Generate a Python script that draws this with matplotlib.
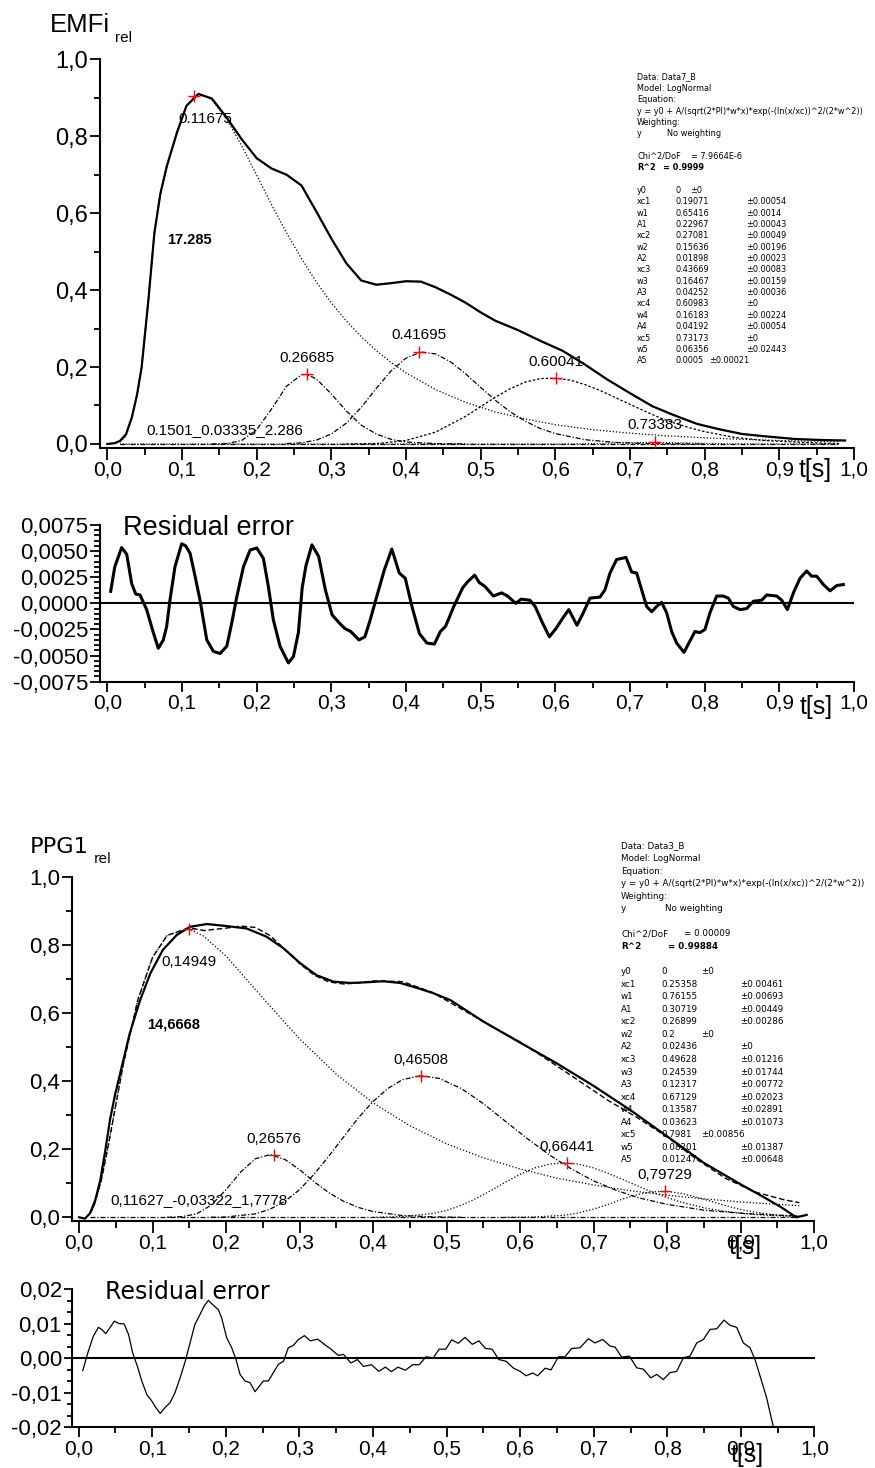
import matplotlib
matplotlib.use("Agg")
import matplotlib.pyplot as plt
from matplotlib.ticker import MultipleLocator, AutoMinorLocator
from matplotlib import font_manager as fm

# ===================== DATA =====================
# --- EMFi measured signal ---
emfi_t = [0.0, 0.01, 0.017, 0.025, 0.033, 0.040, 0.046, 0.055, 0.063, 0.071, 0.0795, 0.093, 0.106, 0.122,
          0.14, 0.16, 0.18, 0.20, 0.22, 0.24, 0.26, 0.28, 0.30, 0.32, 0.34, 0.36, 0.38, 0.40, 0.42, 0.44,
          0.46, 0.48, 0.50, 0.52, 0.55, 0.58, 0.61, 0.64, 0.67, 0.70, 0.73, 0.76, 0.79, 0.82, 0.85, 0.88,
          0.92, 0.96, 0.988]
emfi_v = [0.0, 0.002, 0.008, 0.025, 0.07, 0.13, 0.20, 0.374, 0.548, 0.65, 0.721, 0.808, 0.879, 0.910,
          0.898, 0.848, 0.792, 0.743, 0.716, 0.700, 0.672, 0.604, 0.534, 0.47, 0.425, 0.414, 0.418, 0.423,
          0.422, 0.407, 0.388, 0.367, 0.342, 0.320, 0.296, 0.268, 0.242, 0.206, 0.167, 0.132, 0.098, 0.074,
          0.052, 0.038, 0.026, 0.020, 0.013, 0.010, 0.009]
# --- EMFi log-normal components ---
emfi_c1_t = [0.017, 0.025, 0.033, 0.040, 0.046, 0.055, 0.063, 0.071, 0.080, 0.093, 0.106, 0.117, 0.125,
             0.14, 0.16, 0.18, 0.20, 0.22, 0.24, 0.26, 0.28, 0.30, 0.32, 0.34, 0.36, 0.38, 0.40, 0.44,
             0.48, 0.52, 0.56, 0.60, 0.65, 0.70, 0.75, 0.80, 0.85, 0.90, 0.95, 0.98]
emfi_c1_v = [0.005, 0.02, 0.07, 0.13, 0.20, 0.374, 0.548, 0.65, 0.721, 0.808, 0.879, 0.905, 0.908,
             0.895, 0.844, 0.775, 0.699, 0.622, 0.549, 0.482, 0.421, 0.367, 0.320, 0.279, 0.243, 0.212,
             0.185, 0.141, 0.108, 0.083, 0.065, 0.050, 0.037, 0.028, 0.021, 0.016, 0.012, 0.009, 0.007, 0.006]
emfi_c2_t = [0.14, 0.16, 0.18, 0.20, 0.22, 0.24, 0.26, 0.267, 0.28, 0.30, 0.32, 0.34, 0.36, 0.38, 0.40, 0.44, 0.48]
emfi_c2_v = [0.0, 0.001, 0.009, 0.037, 0.091, 0.150, 0.180, 0.181, 0.169, 0.130, 0.086, 0.049, 0.026,
             0.012, 0.005, 0.001, 0.0]
emfi_c3_t = [0.24, 0.26, 0.28, 0.30, 0.32, 0.34, 0.36, 0.38, 0.40, 0.42, 0.44, 0.46, 0.48, 0.50, 0.52,
             0.54, 0.56, 0.58, 0.60, 0.64, 0.68, 0.72, 0.76, 0.80]
emfi_c3_v = [0.001, 0.003, 0.010, 0.026, 0.054, 0.095, 0.144, 0.190, 0.223, 0.239, 0.234, 0.213, 0.182,
             0.147, 0.113, 0.083, 0.059, 0.040, 0.027, 0.011, 0.004, 0.001, 0.0005, 0.0]
emfi_c4_t = [0.32, 0.36, 0.40, 0.44, 0.48, 0.50, 0.52, 0.54, 0.56, 0.58, 0.60, 0.62, 0.64, 0.66, 0.68,
             0.70, 0.72, 0.74, 0.76, 0.78, 0.80, 0.84, 0.88, 0.92, 0.96, 0.98]
emfi_c4_v = [0.0, 0.001, 0.009, 0.031, 0.072, 0.097, 0.122, 0.144, 0.161, 0.170, 0.171, 0.166, 0.154,
             0.139, 0.121, 0.103, 0.085, 0.068, 0.054, 0.042, 0.032, 0.017, 0.009, 0.005, 0.002, 0.001]
emfi_c5_t = [0.017, 0.60, 0.62, 0.66, 0.70, 0.733, 0.76, 0.80, 0.84, 0.98]
emfi_c5_v = [0.0, 0.0, 0.0002, 0.0013, 0.0035, 0.0043, 0.0035, 0.0015, 0.0004, 0.0]
emfi_base_t = [0.017, 0.98]
emfi_base_v = [0.0, 0.0]
emfi_peak_t = [0.11675, 0.26685, 0.41695, 0.60041, 0.73383]
emfi_peak_v = [0.905, 0.181, 0.239, 0.171, 0.004]
emfi_peak_lbl = ["0.11675", "0.26685", "0.41695", "0.60041", "0.73383"]
emfi_area_lbl = "17.285"
emfi_extra_lbl = "0.1501_0.03335_2.286"

# --- EMFi residual ---
res1_t = [0.0045, 0.010, 0.0192, 0.026, 0.0326, 0.038, 0.0438, 0.0527, 0.0616, 0.0683, 0.075, 0.0795,
          0.0839, 0.0906, 0.0996, 0.105, 0.1108, 0.1175, 0.1242, 0.1332, 0.1421, 0.151, 0.160, 0.1666,
          0.1733, 0.1823, 0.1912, 0.2001, 0.209, 0.2157, 0.2224, 0.2313, 0.2425, 0.2492, 0.2559, 0.261,
          0.266, 0.274, 0.283, 0.292, 0.301, 0.311, 0.318, 0.326, 0.337, 0.345, 0.352, 0.361, 0.371,
          0.381, 0.391, 0.399, 0.408, 0.418, 0.428, 0.438, 0.446, 0.453, 0.464, 0.476, 0.483, 0.492,
          0.498, 0.506, 0.517, 0.528, 0.536, 0.547, 0.554, 0.566, 0.573, 0.583, 0.592, 0.601, 0.611,
          0.618, 0.629, 0.6375, 0.6464, 0.6598, 0.6665, 0.6732, 0.6821, 0.6888, 0.6946, 0.7022, 0.7089,
          0.7156, 0.7223, 0.729, 0.7357, 0.7424, 0.7491, 0.7558, 0.7625, 0.7723, 0.7803, 0.787, 0.7937,
          0.8004, 0.8071, 0.8161, 0.825, 0.8317, 0.8384, 0.8474, 0.8563, 0.8652, 0.8764, 0.8831, 0.8965,
          0.9032, 0.9108, 0.9188, 0.9277, 0.9366, 0.9433, 0.950, 0.959, 0.9679, 0.9768, 0.9857]
res1_v = [0.00115, 0.0035, 0.00534, 0.0047, 0.0019, 0.0009, 0.0008, -0.0006, -0.0028, -0.0043, -0.0035,
          -0.0022, 0.0003, 0.0035, 0.0057, 0.0055, 0.0048, 0.0026, 0.0003, -0.0035, -0.0046, -0.0048,
          -0.0041, -0.0019, 0.0006, 0.0035, 0.0051, 0.0053, 0.0043, 0.0016, -0.0016, -0.0041, -0.0057,
          -0.0051, -0.0028, 0.0015, 0.0036, 0.0056, 0.0045, 0.0013, -0.0011, -0.0019, -0.0024, -0.0027,
          -0.0035, -0.0032, -0.0016, 0.0007, 0.0032, 0.0052, 0.0029, 0.0024, -0.0003, -0.0029, -0.0038,
          -0.0039, -0.0027, -0.0022, -0.0003, 0.0015, 0.0021, 0.0027, 0.0020, 0.0016, 0.0007, 0.0010,
          0.0007, 0.0000, 0.0004, 0.0003, -0.0003, -0.0019, -0.0032, -0.0024, -0.0013, -0.0006, -0.0021,
          -0.0009, 0.0005, 0.0006, 0.0013, 0.0029, 0.0042, 0.0043, 0.0044, 0.0030, 0.0029, 0.0013,
          -0.0003, -0.0008, -0.0003, 0.0001, -0.0009, -0.0027, -0.0038, -0.0047, -0.0036, -0.0027,
          -0.0028, -0.0025, -0.0009, 0.0007, 0.0007, 0.0005, -0.0003, -0.0006, -0.0005, 0.0002, 0.0003,
          0.0008, 0.0007, 0.0003, -0.0006, 0.0010, 0.0024, 0.0031, 0.0026, 0.0026, 0.0018, 0.0012,
          0.0017, 0.0018]

# --- PPG1 measured signal ---
ppg_t = [0.0, 0.008, 0.015, 0.022, 0.029, 0.036, 0.042, 0.049, 0.056, 0.069, 0.083, 0.097, 0.114, 0.133,
         0.151, 0.174, 0.201, 0.228, 0.255, 0.278, 0.301, 0.323, 0.346, 0.369, 0.391, 0.414, 0.437, 0.459,
         0.482, 0.505, 0.55, 0.60, 0.65, 0.70, 0.75, 0.80, 0.85, 0.90, 0.931, 0.955, 0.976, 0.990]
ppg_v = [0.0, -0.004, 0.012, 0.05, 0.11, 0.20, 0.285, 0.36, 0.423, 0.54, 0.637, 0.716, 0.785, 0.829,
         0.853, 0.861, 0.855, 0.848, 0.824, 0.790, 0.746, 0.711, 0.692, 0.688, 0.690, 0.693, 0.688, 0.674,
         0.658, 0.638, 0.575, 0.513, 0.452, 0.386, 0.315, 0.238, 0.160, 0.097, 0.060, 0.030, 0.0, 0.007]
ppg_fit_t = [0.015, 0.02, 0.03, 0.04, 0.06, 0.08, 0.10, 0.12, 0.15, 0.17, 0.20, 0.22, 0.24, 0.26, 0.28,
             0.30, 0.32, 0.34, 0.36, 0.38, 0.40, 0.44, 0.48, 0.52, 0.56, 0.60, 0.64, 0.68, 0.72, 0.76,
             0.80, 0.84, 0.88, 0.92, 0.96, 0.98]
ppg_fit_v = [0.012, 0.031, 0.106, 0.213, 0.447, 0.639, 0.763, 0.828, 0.850, 0.842, 0.849, 0.855, 0.851,
             0.827, 0.787, 0.745, 0.711, 0.691, 0.685, 0.688, 0.694, 0.692, 0.661, 0.612, 0.562, 0.515,
             0.459, 0.401, 0.343, 0.292, 0.236, 0.171, 0.114, 0.074, 0.051, 0.043]
# --- PPG1 log-normal components ---
ppg_c1_t = [0.015, 0.02, 0.03, 0.04, 0.05, 0.06, 0.08, 0.10, 0.12, 0.15, 0.17, 0.20, 0.25, 0.30, 0.35,
            0.40, 0.45, 0.50, 0.55, 0.60, 0.65, 0.70, 0.75, 0.80, 0.85, 0.90, 0.95, 0.98]
ppg_c1_v = [0.012, 0.031, 0.106, 0.213, 0.332, 0.447, 0.639, 0.763, 0.828, 0.846, 0.825, 0.767, 0.644,
            0.524, 0.420, 0.336, 0.269, 0.216, 0.175, 0.142, 0.115, 0.095, 0.078, 0.065, 0.054, 0.045,
            0.038, 0.034]
ppg_c2_t = [0.12, 0.14, 0.16, 0.18, 0.20, 0.22, 0.24, 0.26, 0.28, 0.30, 0.32, 0.34, 0.36, 0.38, 0.40,
            0.44, 0.48, 0.52]
ppg_c2_v = [0.0, 0.002, 0.010, 0.036, 0.081, 0.133, 0.172, 0.184, 0.170, 0.140, 0.104, 0.072, 0.047,
            0.029, 0.017, 0.005, 0.0015, 0.0]
ppg_c3_t = [0.18, 0.20, 0.24, 0.26, 0.28, 0.30, 0.32, 0.34, 0.36, 0.38, 0.40, 0.42, 0.44, 0.465, 0.49,
            0.52, 0.55, 0.58, 0.61, 0.64, 0.67, 0.70, 0.73, 0.76, 0.80, 0.85, 0.90, 0.95, 0.98]
ppg_c3_v = [0.0, 0.001, 0.010, 0.024, 0.047, 0.081, 0.127, 0.180, 0.236, 0.292, 0.340, 0.378, 0.404,
            0.416, 0.408, 0.378, 0.334, 0.282, 0.231, 0.183, 0.142, 0.107, 0.080, 0.058, 0.038, 0.021,
            0.012, 0.006, 0.0045]
ppg_c4_t = [0.40, 0.44, 0.48, 0.50, 0.52, 0.54, 0.56, 0.58, 0.60, 0.62, 0.64, 0.66, 0.68, 0.70, 0.72,
            0.74, 0.76, 0.78, 0.80, 0.82, 0.85, 0.88, 0.92, 0.96, 0.98]
ppg_c4_v = [0.0, 0.002, 0.011, 0.020, 0.035, 0.055, 0.078, 0.103, 0.126, 0.145, 0.156, 0.160, 0.156,
            0.145, 0.129, 0.111, 0.092, 0.074, 0.058, 0.044, 0.028, 0.017, 0.008, 0.0035, 0.002]
ppg_c5_t = [0.58, 0.62, 0.66, 0.68, 0.70, 0.72, 0.74, 0.76, 0.78, 0.80, 0.82, 0.84, 0.86, 0.88, 0.90,
            0.92, 0.94, 0.96, 0.98]
ppg_c5_v = [0.0, 0.001, 0.006, 0.013, 0.024, 0.038, 0.054, 0.067, 0.075, 0.076, 0.070, 0.059, 0.047,
            0.034, 0.023, 0.015, 0.009, 0.005, 0.003]
ppg_base_t = [0.015, 0.98]
ppg_base_v = [0.0, 0.0]
ppg_peak_t = [0.14949, 0.26576, 0.46508, 0.66441, 0.79729]
ppg_peak_v = [0.846, 0.184, 0.416, 0.160, 0.076]
ppg_peak_lbl = ["0,14949", "0,26576", "0,46508", "0,66441", "0,79729"]
ppg_area_lbl = "14,6668"
ppg_extra_lbl = "0,11627_-0,03322_1,7778"

# --- PPG1 residual ---
res2_t = [0.0057, 0.0133, 0.020, 0.027, 0.0315, 0.037, 0.043, 0.0487, 0.055, 0.062, 0.068, 0.0736,
          0.0799, 0.0859, 0.0927, 0.0995, 0.105, 0.111, 0.1175, 0.1243, 0.131, 0.138, 0.145, 0.1515,
          0.158, 0.165, 0.1705, 0.1764, 0.1832, 0.190, 0.1945, 0.2013, 0.2081, 0.214, 0.2194, 0.2262,
          0.233, 0.2398, 0.2457, 0.2511, 0.258, 0.2647, 0.2715, 0.2785, 0.285, 0.292, 0.2987, 0.307,
          0.315, 0.325, 0.334, 0.343, 0.353, 0.360, 0.370, 0.379, 0.387, 0.398, 0.408, 0.417, 0.425,
          0.434, 0.444, 0.454, 0.463, 0.472, 0.482, 0.490, 0.499, 0.507, 0.516, 0.525, 0.535, 0.544,
          0.553, 0.562, 0.571, 0.581, 0.591, 0.600, 0.608, 0.617, 0.624, 0.634, 0.642, 0.652, 0.661,
          0.670, 0.6814, 0.6927, 0.7018, 0.7122, 0.7222, 0.729, 0.738, 0.7485, 0.7584, 0.7675, 0.7775,
          0.7856, 0.7946, 0.8037, 0.8128, 0.8218, 0.8309, 0.840, 0.849, 0.8581, 0.8672, 0.877, 0.8852,
          0.8943, 0.9033, 0.9124, 0.9192, 0.9282, 0.935, 0.9441, 0.9486]
res2_v = [-0.0036, 0.0020, 0.0063, 0.0089, 0.0083, 0.0071, 0.0089, 0.0107, 0.0100, 0.0099, 0.0068,
          0.0015, -0.0023, -0.0066, -0.0105, -0.0124, -0.0143, -0.0160, -0.0143, -0.0129, -0.0100,
          -0.0057, -0.0009, 0.0044, 0.0097, 0.0126, 0.0150, 0.0167, 0.0153, 0.0140, 0.0116, 0.0059,
          0.0030, -0.0004, -0.0047, -0.0066, -0.0071, -0.0097, -0.0081, -0.0066, -0.0066, -0.0042,
          -0.0018, -0.0009, 0.0030, 0.0037, 0.0054, 0.0065, 0.0050, 0.0055, 0.0040, 0.0026, 0.0008,
          0.0011, -0.0014, -0.0004, -0.0024, -0.0019, -0.0038, -0.0026, -0.0039, -0.0026, -0.0035,
          -0.0019, -0.0019, 0.0004, 0.0001, 0.0026, 0.0026, 0.0053, 0.0043, 0.0060, 0.0040, 0.0050,
          0.0028, 0.0026, -0.0004, -0.0009, -0.0029, -0.0038, -0.0051, -0.0043, -0.0051, -0.0029,
          -0.0034, 0.0004, 0.0004, 0.0028, 0.0030, 0.0056, 0.0044, 0.0054, 0.0035, 0.0032, 0.0003,
          0.0006, -0.0028, -0.0032, -0.0057, -0.0047, -0.0062, -0.0042, -0.0038, 0.0001, 0.0006,
          0.0044, 0.0054, 0.0083, 0.0085, 0.0110, 0.0095, 0.0089, 0.0044, 0.0030, -0.0004, -0.0067,
          -0.0115, -0.0199, -0.0240]

# --- Fit report texts ---
par_names = ["y0", "xc1", "w1", "A1", "xc2", "w2", "A2", "xc3", "w3", "A3",
             "xc4", "w4", "A4", "xc5", "w5", "A5"]
emfi_head = ["Data: Data7_B", "Model: LogNormal", "Equation:",
             "y = y0 + A/(sqrt(2*PI)*w*x)*exp(-(ln(x/xc))^2/(2*w^2))", "Weighting:"]
emfi_chi = "= 7.9664E-6"
emfi_r2 = "= 0.9999"
emfi_vals = ["0", "0.19071", "0.65416", "0.22967", "0.27081", "0.15636", "0.01898", "0.43669",
             "0.16467", "0.04252", "0.60983", "0.16183", "0.04192", "0.73173", "0.06356", "0.0005"]
emfi_errs = ["±0", "±0.00054", "±0.0014", "±0.00043", "±0.00049", "±0.00196", "±0.00023", "±0.00083",
             "±0.00159", "±0.00036", "±0", "±0.00224", "±0.00054", "±0", "±0.02443", "±0.00021"]
emfi_near = [0, 15]
ppg_head = ["Data: Data3_B", "Model: LogNormal", "Equation:",
            "y = y0 + A/(sqrt(2*PI)*w*x)*exp(-(ln(x/xc))^2/(2*w^2))", "Weighting:"]
ppg_chi = "= 0.00009"
ppg_r2 = "= 0.99884"
ppg_vals = ["0", "0.25358", "0.76155", "0.30719", "0.26899", "0.2", "0.02436", "0.49628", "0.24539",
            "0.12317", "0.67129", "0.13587", "0.03623", "0.7981", "0.08201", "0.01247"]
ppg_errs = ["±0", "±0.00461", "±0.00693", "±0.00449", "±0.00286", "±0", "±0", "±0.01216", "±0.01744",
            "±0.00772", "±0.02023", "±0.02891", "±0.01073", "±0.00856", "±0.01387", "±0.00648"]
ppg_near = [0, 5, 13]

x_ticks = [0.0, 0.1, 0.2, 0.3, 0.4, 0.5, 0.6, 0.7, 0.8, 0.9, 1.0]
main_yticks = [0.0, 0.2, 0.4, 0.6, 0.8, 1.0]
res1_yticks = [-0.0075, -0.005, -0.0025, 0.0, 0.0025, 0.005, 0.0075]
res2_yticks = [-0.02, -0.01, 0.0, 0.01, 0.02]

# ===================== FIGURE =====================
W, H = 875, 1468
fig = plt.figure(figsize=(W / 100, H / 100), dpi=100)


def has_font(name):
    try:
        fm.findfont(fm.FontProperties(family=name), fallback_to_default=False)
        return True
    except Exception:
        return False


SANS = 'Liberation Sans'
NARROW_OK = has_font('Liberation Sans Narrow')
if NARROW_OK:
    XFONT = dict(family='Liberation Sans Narrow', size=19)
else:
    XFONT = dict(family=SANS, size=15)


def add_ax(l, t, r, b):
    return fig.add_axes([l / W, 1 - b / H, (r - l) / W, (b - t) / H])


def fmt(v, nd):
    s = f"{v:.{nd}f}".replace('.', ',')
    if s.startswith('-') and abs(v) < 1e-12:
        s = s[1:]
    return s


def style(ax, xlim, ylim, yticks, ynd, yfs, yminor_loc, ymaj, ymin, xmaj, xmin, lw=1.5):
    ax.set_xlim(*xlim)
    ax.set_ylim(*ylim)
    for s in ('top', 'right'):
        ax.spines[s].set_visible(False)
    for s in ('left', 'bottom'):
        ax.spines[s].set_linewidth(lw)
    ax.set_xticks(x_ticks)
    ax.set_xticklabels([fmt(v, 1) for v in x_ticks], **XFONT)
    ax.set_yticks(yticks)
    ax.set_yticklabels([fmt(v, ynd) for v in yticks], family=SANS, size=yfs)
    ax.xaxis.set_minor_locator(MultipleLocator(0.05))
    ax.yaxis.set_minor_locator(yminor_loc)
    ax.tick_params(which='both', direction='out', width=1.3, colors='black')
    ax.tick_params(axis='y', which='major', length=ymaj, pad=1)
    ax.tick_params(axis='y', which='minor', length=ymin)
    ax.tick_params(axis='x', which='major', length=xmaj, pad=1)
    ax.tick_params(axis='x', which='minor', length=xmin)
    ax.patch.set_alpha(0)


def px_text(x, y, s, **kw):
    fig.text(x / W, 1 - y / H, s, **kw)


dot = (0, (1, 1.6))
dashdot = (0, (4, 1.5, 1, 1.5))
sdash = (0, (2, 1.5))

# ---------- Panel 1: EMFi ----------
ax1 = add_ax(100, 59.3, 854, 447.8)
style(ax1, (-0.0098, 1.0), (-0.01, 1.0), main_yticks, 1, 17, MultipleLocator(0.1), 7.5, 4, 8.5, 5)
ax1.plot(emfi_base_t, emfi_base_v, color='black', lw=0.9, ls=dashdot)
ax1.plot(emfi_c5_t, emfi_c5_v, color='black', lw=0.8, ls=dot)
ax1.plot(emfi_c1_t, emfi_c1_v, color='black', lw=0.9, ls=dot)
ax1.plot(emfi_c2_t, emfi_c2_v, color='black', lw=0.9, ls=dashdot)
ax1.plot(emfi_c3_t, emfi_c3_v, color='black', lw=0.9, ls=dashdot)
ax1.plot(emfi_c4_t, emfi_c4_v, color='black', lw=0.9, ls=sdash)
ax1.plot(emfi_t, emfi_v, color='#555555', lw=1.0, ls=(0, (4, 2)))
ax1.plot(emfi_t, emfi_v, color='black', lw=1.6)
ax1.plot(emfi_peak_t, emfi_peak_v, ls='none', marker='+', color='red', ms=9, mew=1.0, zorder=5)
offs1 = [(8, -17), (0, 12), (0, 12), (0, 12), (0, 12.5)]
for t, v, lab, o in zip(emfi_peak_t, emfi_peak_v, emfi_peak_lbl, offs1):
    ax1.annotate(lab, (t, v), xytext=o, textcoords='offset points', ha='center', va='center',
                 family=SANS, size=11)
ax1.text(0.110, 0.530, emfi_area_lbl, family=SANS, size=10.5, weight='bold', ha='center', va='center')
ax1.text(0.158, 0.036, emfi_extra_lbl, family=SANS, size=11, ha='center', va='center')

# ---------- Panel 2: EMFi residual ----------
ax2 = add_ax(100, 525, 854, 681.7)
style(ax2, (-0.0098, 1.0), (-0.0075, 0.0075), res1_yticks, 4, 16, MultipleLocator(0.0005), 7.5, 4, 7.5, 4)
ax2.axhline(0, color='black', lw=1.5)
ax2.plot(res1_t, res1_v, color='black', lw=2.2)

# ---------- Panel 3: PPG1 ----------
ax3 = add_ax(71.7, 876.7, 814, 1220.7)
style(ax3, (-0.01, 1.0), (-0.01, 1.0), main_yticks, 1, 16, MultipleLocator(0.1), 7.5, 4, 8.5, 5)
ax3.plot(ppg_base_t, ppg_base_v, color='black', lw=0.9, ls=dashdot)
ax3.plot(ppg_c1_t, ppg_c1_v, color='black', lw=0.9, ls=dot)
ax3.plot(ppg_c2_t, ppg_c2_v, color='black', lw=0.9, ls=dashdot)
ax3.plot(ppg_c3_t, ppg_c3_v, color='black', lw=0.9, ls=dashdot)
ax3.plot(ppg_c4_t, ppg_c4_v, color='black', lw=0.9, ls=dot)
ax3.plot(ppg_c5_t, ppg_c5_v, color='black', lw=0.9, ls=dot)
ax3.plot(ppg_fit_t, ppg_fit_v, color='black', lw=1.0, ls=(0, (4, 2)))
ax3.plot(ppg_t, ppg_v, color='black', lw=1.6)
ax3.plot(ppg_peak_t, ppg_peak_v, ls='none', marker='+', color='red', ms=9, mew=1.0, zorder=5)
offs3 = [(0, -24), (0, 11.5), (0, 11.5), (0, 11.5), (0, 11.5)]
for t, v, lab, o in zip(ppg_peak_t, ppg_peak_v, ppg_peak_lbl, offs3):
    ax3.annotate(lab, (t, v), xytext=o, textcoords='offset points', ha='center', va='center',
                 family=SANS, size=11)
ax3.text(0.129, 0.567, ppg_area_lbl, family=SANS, size=10.5, weight='bold', ha='center', va='center')
ax3.text(0.163, 0.050, ppg_extra_lbl, family=SANS, size=11, ha='center', va='center')

# ---------- Panel 4: PPG1 residual ----------
ax4 = add_ax(71.7, 1289, 814.5, 1427.3)
style(ax4, (-0.0093, 1.0), (-0.02, 0.02), res2_yticks, 2, 16, AutoMinorLocator(3), 6, 3.5, 7.5, 4)
ax4.axhline(0, color='black', lw=1.5)
ax4.plot(res2_t, res2_v, color='black', lw=0.9)

# ---------- titles ----------
px_text(50, 31.7, "EMFi", family=SANS, size=18.5, va='baseline')
px_text(115, 41.7, "rel", family=SANS, size=11, va='baseline')
px_text(123, 535, "Residual error", family=SANS, size=19.5, va='baseline')
px_text(29.3, 853.3, "PPG1", family='DejaVu Sans', size=16.2, va='baseline')
px_text(93.3, 863.3, "rel", family='DejaVu Sans', size=10, va='baseline')
px_text(105, 1298.7, "Residual error", family='DejaVu Sans', size=17, va='baseline')
for (x, y) in [(815, 470), (815.7, 707), (745, 1247), (747, 1455)]:
    px_text(x, y, "t[s]", family=SANS, size=18, ha='center', va='center')


# ---------- fit report blocks ----------
def report(x_name, x_val, x_err, x_near_err, x_wt, x_chi, x_r2, y0, dy, fs,
           head, chi, r2, vals, errs, near):
    kw = dict(family='DejaVu Sans', size=fs, va='center', ha='left')
    row = 0
    for line in head:
        px_text(x_name, y0 + row * dy, line, **kw)
        row += 1
    px_text(x_name, y0 + row * dy, "y", **kw)
    px_text(x_wt, y0 + row * dy, "No weighting", **kw)
    row += 2
    px_text(x_name, y0 + row * dy, "Chi^2/DoF", **kw)
    px_text(x_chi, y0 + row * dy, chi, **kw)
    row += 1
    px_text(x_name, y0 + row * dy, "R^2", weight='bold', **kw)
    px_text(x_r2, y0 + row * dy, r2, weight='bold', **kw)
    row += 2
    for i, (n, v, e) in enumerate(zip(par_names, vals, errs)):
        yy = y0 + row * dy
        px_text(x_name, yy, n, **kw)
        px_text(x_val, yy, v, **kw)
        px_text(x_near_err[i] if i in near else x_err, yy, e, **kw)
        row += 1


report(637, 675, 746, {0: 690, 15: 709}, 667, 691, 663, 77, 11.35, 5.9,
       emfi_head, emfi_chi, emfi_r2, emfi_vals, emfi_errs, emfi_near)
report(621, 661, 740, {0: 700.7, 5: 700.7, 13: 700.7}, 665, 684, 668, 846, 12.56, 6.3,
       ppg_head, ppg_chi, ppg_r2, ppg_vals, ppg_errs, ppg_near)

fig.savefig("out.png", dpi=100)
